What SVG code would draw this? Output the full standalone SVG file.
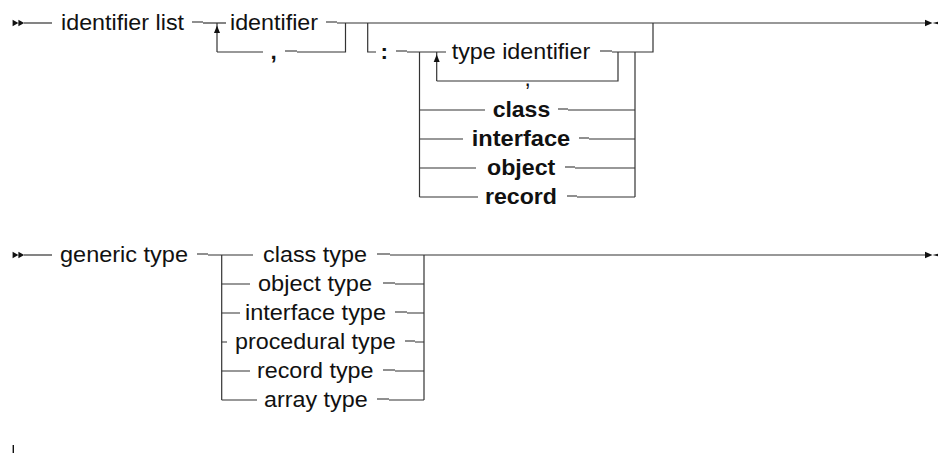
<svg xmlns="http://www.w3.org/2000/svg" width="938" height="453" viewBox="0 0 938 453">
<style>
.ln{stroke:#333;stroke-width:1.2;fill:none}
.ds{stroke:#333;stroke-width:1.1;fill:none}
.ah{fill:#111;stroke:none}
text{font-family:"Liberation Sans",Arial,Helvetica,sans-serif;font-size:22.5px;fill:#111}
.b{font-weight:bold}
</style>
<defs>
<path id="start" d="M0,-3.2 L5.8,0 L0,3.2 Z M5.8,-3.2 L11.6,0 L5.8,3.2 Z"/>
<path id="end" d="M0,-3.2 L7.5,0 L0,3.2 Z M21,-3.2 L7.5,0 L21,3.2 Z"/>
<path id="up" d="M0,0 L-3,7.5 L3,7.5 Z"/>
</defs>
<rect width="938" height="453" fill="#fff"/>

<g id="connectors">
<!-- diagram 1 -->
<use href="#start" x="12.6" y="23" class="ah"/>
<path class="ln" d="M24,23 H52"/>
<path class="ln" d="M203,23 H226"/>
<path class="ln" d="M217,52 V23"/>
<use href="#up" x="217" y="25.5" class="ah"/>
<path class="ln" d="M337,23 H925"/>
<path class="ln" d="M345.5,23 V52 H297"/>
<path class="ln" d="M263,52 H217"/>
<path class="ln" d="M367.7,23 V52 H376"/>
<path class="ln" d="M407,52 H446"/>
<path class="ln" d="M419.5,52 V197"/>
<path class="ln" d="M436.7,81 V52"/>
<use href="#up" x="436.7" y="54.5" class="ah"/>
<path class="ln" d="M436.7,81 H618 V52"/>
<path class="ln" d="M612,52 H653 V23"/>
<path class="ln" d="M635,52 V197"/>
<path class="ln" d="M419.5,110 H485 M568,110 H635"/>
<path class="ln" d="M419.5,139 H463 M589,139 H635"/>
<path class="ln" d="M419.5,168 H476 M575,168 H635"/>
<path class="ln" d="M419.5,197 H478 M577,197 H635"/>
<use href="#end" x="925" y="23" class="ah"/>
<!-- diagram 2 -->
<use href="#start" x="12.6" y="255" class="ah"/>
<path class="ln" d="M24,255 H52"/>
<path class="ln" d="M208,255 H253"/>
<path class="ln" d="M221.7,255 V400"/>
<path class="ln" d="M424,255 V400"/>
<path class="ln" d="M390,255 H925"/>
<path class="ln" d="M221.7,284 H250 M395,284 H424"/>
<path class="ln" d="M221.7,313 H240 M407,313 H424"/>
<path class="ln" d="M221.7,342 H227 M415,342 H424"/>
<path class="ln" d="M221.7,371 H250 M395,371 H424"/>
<path class="ln" d="M221.7,400 H257 M389,400 H424"/>
<use href="#end" x="925" y="255" class="ah"/>
<path d="M13.3,445 V453" stroke="#111" stroke-width="1.4"/>
</g>

<g id="n-identifier-list"><text x="61" y="29.5" textLength="123" lengthAdjust="spacingAndGlyphs">identifier list</text><path class="ds" d="M192,22 H203"/></g>
<g id="n-identifier"><text x="230" y="29.5" textLength="88" lengthAdjust="spacingAndGlyphs">identifier</text><path class="ds" d="M326,22 H337"/></g>
<g id="n-comma1"><text class="b" x="270.5" y="58.5">,</text><path class="ds" d="M285,51 H297"/></g>
<g id="n-colon"><text class="b" x="380.5" y="58.5">:</text><path class="ds" d="M396,51 H407"/></g>
<g id="n-type-identifier"><text x="451.7" y="58.5" textLength="138.5" lengthAdjust="spacingAndGlyphs">type identifier</text><path class="ds" d="M600,51 H612"/></g>
<g id="n-comma2"><text x="524.5" y="86">,</text></g>
<g id="n-class"><text class="b" x="492.7" y="116.5" textLength="57.5" lengthAdjust="spacingAndGlyphs">class</text><path class="ds" d="M558,109 H568"/></g>
<g id="n-interface"><text class="b" x="471.7" y="145.5" textLength="98.5" lengthAdjust="spacingAndGlyphs">interface</text><path class="ds" d="M579,138 H589"/></g>
<g id="n-object"><text class="b" x="487" y="174.5" textLength="68.3" lengthAdjust="spacingAndGlyphs">object</text><path class="ds" d="M565,167 H575"/></g>
<g id="n-record"><text class="b" x="485" y="203.5" textLength="72" lengthAdjust="spacingAndGlyphs">record</text><path class="ds" d="M567,196 H577"/></g>

<g id="n-generic-type"><text x="60" y="261.5" textLength="128" lengthAdjust="spacingAndGlyphs">generic type</text><path class="ds" d="M197,254 H208"/></g>
<g id="n-class-type"><text x="263" y="261.5" textLength="104" lengthAdjust="spacingAndGlyphs">class type</text><path class="ds" d="M377,254 H390"/></g>
<g id="n-object-type"><text x="258" y="290.5" textLength="114" lengthAdjust="spacingAndGlyphs">object type</text><path class="ds" d="M383,283 H395"/></g>
<g id="n-interface-type"><text x="245" y="319.5" textLength="141" lengthAdjust="spacingAndGlyphs">interface type</text><path class="ds" d="M395,312 H407"/></g>
<g id="n-procedural-type"><text x="235" y="348.5" textLength="160.6" lengthAdjust="spacingAndGlyphs">procedural type</text><path class="ds" d="M405,341 H415"/></g>
<g id="n-record-type"><text x="257" y="377.5" textLength="116.5" lengthAdjust="spacingAndGlyphs">record type</text><path class="ds" d="M383,370 H395"/></g>
<g id="n-array-type"><text x="264" y="406.5" textLength="103.6" lengthAdjust="spacingAndGlyphs">array type</text><path class="ds" d="M377,399 H389"/></g>
</svg>
